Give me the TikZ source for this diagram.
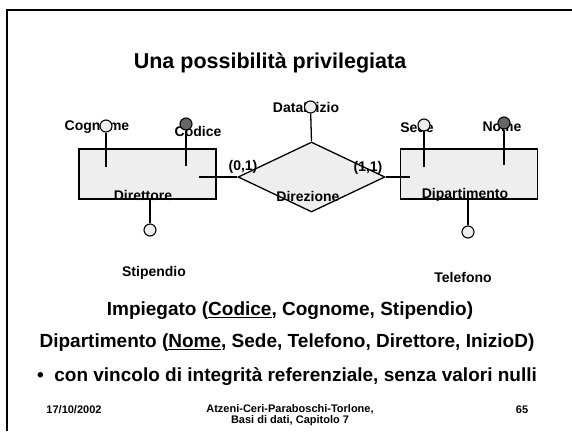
\documentclass[tikz,border=0pt]{standalone}
\usepackage{fontspec}
\setmainfont{Liberation Sans}
\usetikzlibrary{shapes.geometric}
\definecolor{boxfill}{HTML}{EEEEEE}
\definecolor{keyfill}{HTML}{666666}
\begin{document}
\begin{tikzpicture}[x=1pt,y=-1pt,
  every node/.style={font=\bfseries},
  entity/.style={draw,line width=1.3pt,fill=boxfill,minimum width=137pt,minimum height=50pt,inner sep=0pt},
  rel/.style={draw,line width=1.3pt,fill=boxfill,diamond,minimum width=147pt,minimum height=70pt,inner sep=0pt},
  attr/.style={circle,draw,line width=1.1pt,fill=boxfill,minimum size=12pt,inner sep=0pt},
  keyattr/.style={attr,fill=keyfill},
  conn/.style={line width=1.3pt},
  lbl/.style={font=\bfseries\fontsize{14}{16}\selectfont,inner sep=0pt},
  big/.style={font=\bfseries\fontsize{19}{22}\selectfont,inner sep=0pt},
  foot/.style={font=\bfseries\fontsize{11}{11.5}\selectfont,inner sep=0pt,align=center}]
\useasboundingbox (0,0) rectangle (572,431);
\fill[white] (0,0) rectangle (572,431);
\draw[line width=1.3pt] (7,431) -- (7,10) -- (572,10);
\node[font=\bfseries\fontsize{21.5}{25}\selectfont,inner sep=0pt] (title) at (270,63) {Una possibilità privilegiata};
% entities
\node[entity] (dir) at (147.5,174) {};
\node[entity] (dip) at (469,174) {};
\node[rel] (rel) at (311.5,177) {};
% connectors
\coordinate (dirIn) at (199,177);
\coordinate (dipIn) at (410,177);
\draw[conn] (dirIn) -- (rel.west);
\draw[conn] (rel.east) -- (dipIn);
% attributes of Direttore
\coordinate (cogIn) at (106,167);
\coordinate (codIn) at (186,166);
\node[lbl] (cogT) at (97,127) {Cognome};
\node[lbl] (codT) at (198,131) {Codice};
\node[attr] (cogC) at (106,126) {};
\node[keyattr] (codC) at (186,124) {};
\draw[conn] (cogIn) -- (cogC);
\draw[conn] (codIn) -- (codC);
\node[lbl] (dirT) at (143,195) {Direttore};
\node[attr] (stiC) at (150,230) {};
\draw[conn] (dir.south -| stiC) -- (stiC);
\node[lbl] (stiT) at (154,273) {Stipendio};
% relationship
\node[lbl] (datT) at (306,107) {DataInizio};
\node[attr] (datC) at (310.5,107) {};
\draw[conn] (rel.north) -- (datC);
\node[lbl] (relT) at (308,196) {Direzione};
\node[lbl] (c1) at (243,167) {(0,1)};
\node[lbl] (c2) at (368,168) {(1,1)};
% attributes of Dipartimento
\coordinate (sedIn) at (424,167);
\coordinate (nomIn) at (504,165);
\node[lbl] (sedT) at (417,127) {Sede};
\node[lbl] (nomT) at (502,127) {Nome};
\node[attr] (sedC) at (424,125) {};
\node[keyattr] (nomC) at (504,123) {};
\draw[conn] (sedIn) -- (sedC);
\draw[conn] (nomIn) -- (nomC);
\node[lbl] (dipT) at (465,195) {Dipartimento};
\node[attr] (telC) at (468,232) {};
\draw[conn] (dip.south -| telC) -- (telC);
\node[lbl] (telT) at (463,277) {Telefono};
% text below
\node[big] (imp) at (290,311) {Impiegato (\underline{Codice}, Cognome, Stipendio)};
\node[big] (dipR) at (287,343) {Dipartimento (\underline{Nome}, Sede, Telefono, Direttore, InizioD)};
\node[big] (bul) at (287,377) {\textbullet\ \ con vincolo di integrità referenziale, senza valori nulli};
\node[foot] (date) at (74,410) {17/10/2002};
\node[foot] (auth) at (290,415) {Atzeni-Ceri-Paraboschi-Torlone,\\Basi di dati, Capitolo 7};
\node[foot] (page) at (522,410) {65};
\end{tikzpicture}
\end{document}
